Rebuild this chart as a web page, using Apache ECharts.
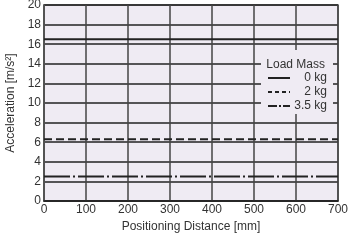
<!DOCTYPE html>
<html>
<head>
<meta charset="utf-8">
<script src="https://cdn.jsdelivr.net/npm/echarts@6/dist/echarts.min.js"></script>
<style>
html, body { margin: 0; padding: 0; background: #fff; }
#main { width: 360px; height: 243px; }
</style>
</head>
<body>
<div id="main"></div>
<script>
// 数据
var distances = [0, 700];
var mass0 = [16.5, 16.5];
var mass2 = [6.3, 6.3];
var mass35 = [2.5, 2.5];
var seriesNames = ['0 kg', '2 kg', '3.5 kg'];

var font = '"Liberation Sans Narrow", "Liberation Sans", Arial, sans-serif';

function pairs(vals) {
    return distances.map(function (d, i) { return [d, vals[i]]; });
}

var myChart = echarts.init(document.getElementById('main'));

option = {
    animation: false,
    textStyle: { fontFamily: font },
    grid: { left: 44, right: 22, top: 5, bottom: 42, containLabel: false, outerBoundsMode: 'none',
            show: true, backgroundColor: '#efebf3', borderColor: '#555', borderWidth: 1.5 },
    title: {
        text: 'Load Mass',
        right: 30, top: 54,
        textStyle: { fontFamily: font, fontSize: 12, fontWeight: 'normal', color: '#333' },
        z: 10
    },
    legend: {
        data: [
            { name: seriesNames[0] },
            { name: seriesNames[1], lineStyle: { type: [4, 3] } },
            { name: seriesNames[2], lineStyle: { type: [9, 2, 2, 2] } }
        ],
        orient: 'vertical',
        right: 27, top: 50,
        padding: [22, 6, 2, 6],
        backgroundColor: '#efebf3',
        itemWidth: 22, itemHeight: 10, itemGap: 2,
        itemStyle: { opacity: 0 },
        formatter: function (n) { return '{a|' + n + '}'; },
        textStyle: {
            fontFamily: font, fontSize: 12, color: '#333',
            rich: { a: { width: 32, align: 'right', fontFamily: font, fontSize: 12, color: '#333' } }
        },
        z: 5
    },
    xAxis: {
        type: 'value', min: 0, max: 700, interval: 100,
        name: 'Positioning Distance [mm]', nameLocation: 'middle', nameGap: 18,
        nameTextStyle: { fontFamily: font, fontSize: 12, color: '#333' },
        axisLine: { lineStyle: { color: '#222', width: 1.5 } },
        axisTick: { show: false },
        axisLabel: { fontFamily: font, fontSize: 12, color: '#333', margin: 3 },
        splitLine: { lineStyle: { color: '#444', width: 1.5 } }
    },
    yAxis: {
        type: 'value', min: 0, max: 20, interval: 2,
        name: 'Acceleration [m/s²]', nameLocation: 'middle', nameGap: 25,
        nameTextStyle: { fontFamily: font, fontSize: 12, color: '#333' },
        axisLine: { lineStyle: { color: '#555', width: 1.5 } },
        axisTick: { show: false },
        axisLabel: { fontFamily: font, fontSize: 12, color: '#333', margin: 3 },
        splitLine: { lineStyle: { color: '#222', width: 1.5 } }
    },
    series: [
        { name: seriesNames[0], type: 'line', symbol: 'none', data: pairs(mass0),
          lineStyle: { color: '#222', width: 2 }, itemStyle: { color: '#222' } },
        { name: seriesNames[1], type: 'line', symbol: 'none', data: pairs(mass2),
          lineStyle: { color: '#222', width: 2, type: [8, 4] }, itemStyle: { color: '#222' } },
        { name: seriesNames[2], type: 'line', symbol: 'none', data: pairs(mass35),
          lineStyle: { color: '#222', width: 2, type: [26, 3, 2, 3] }, itemStyle: { color: '#222' } }
    ]
};

myChart.setOption(option);
</script>
</body>
</html>
